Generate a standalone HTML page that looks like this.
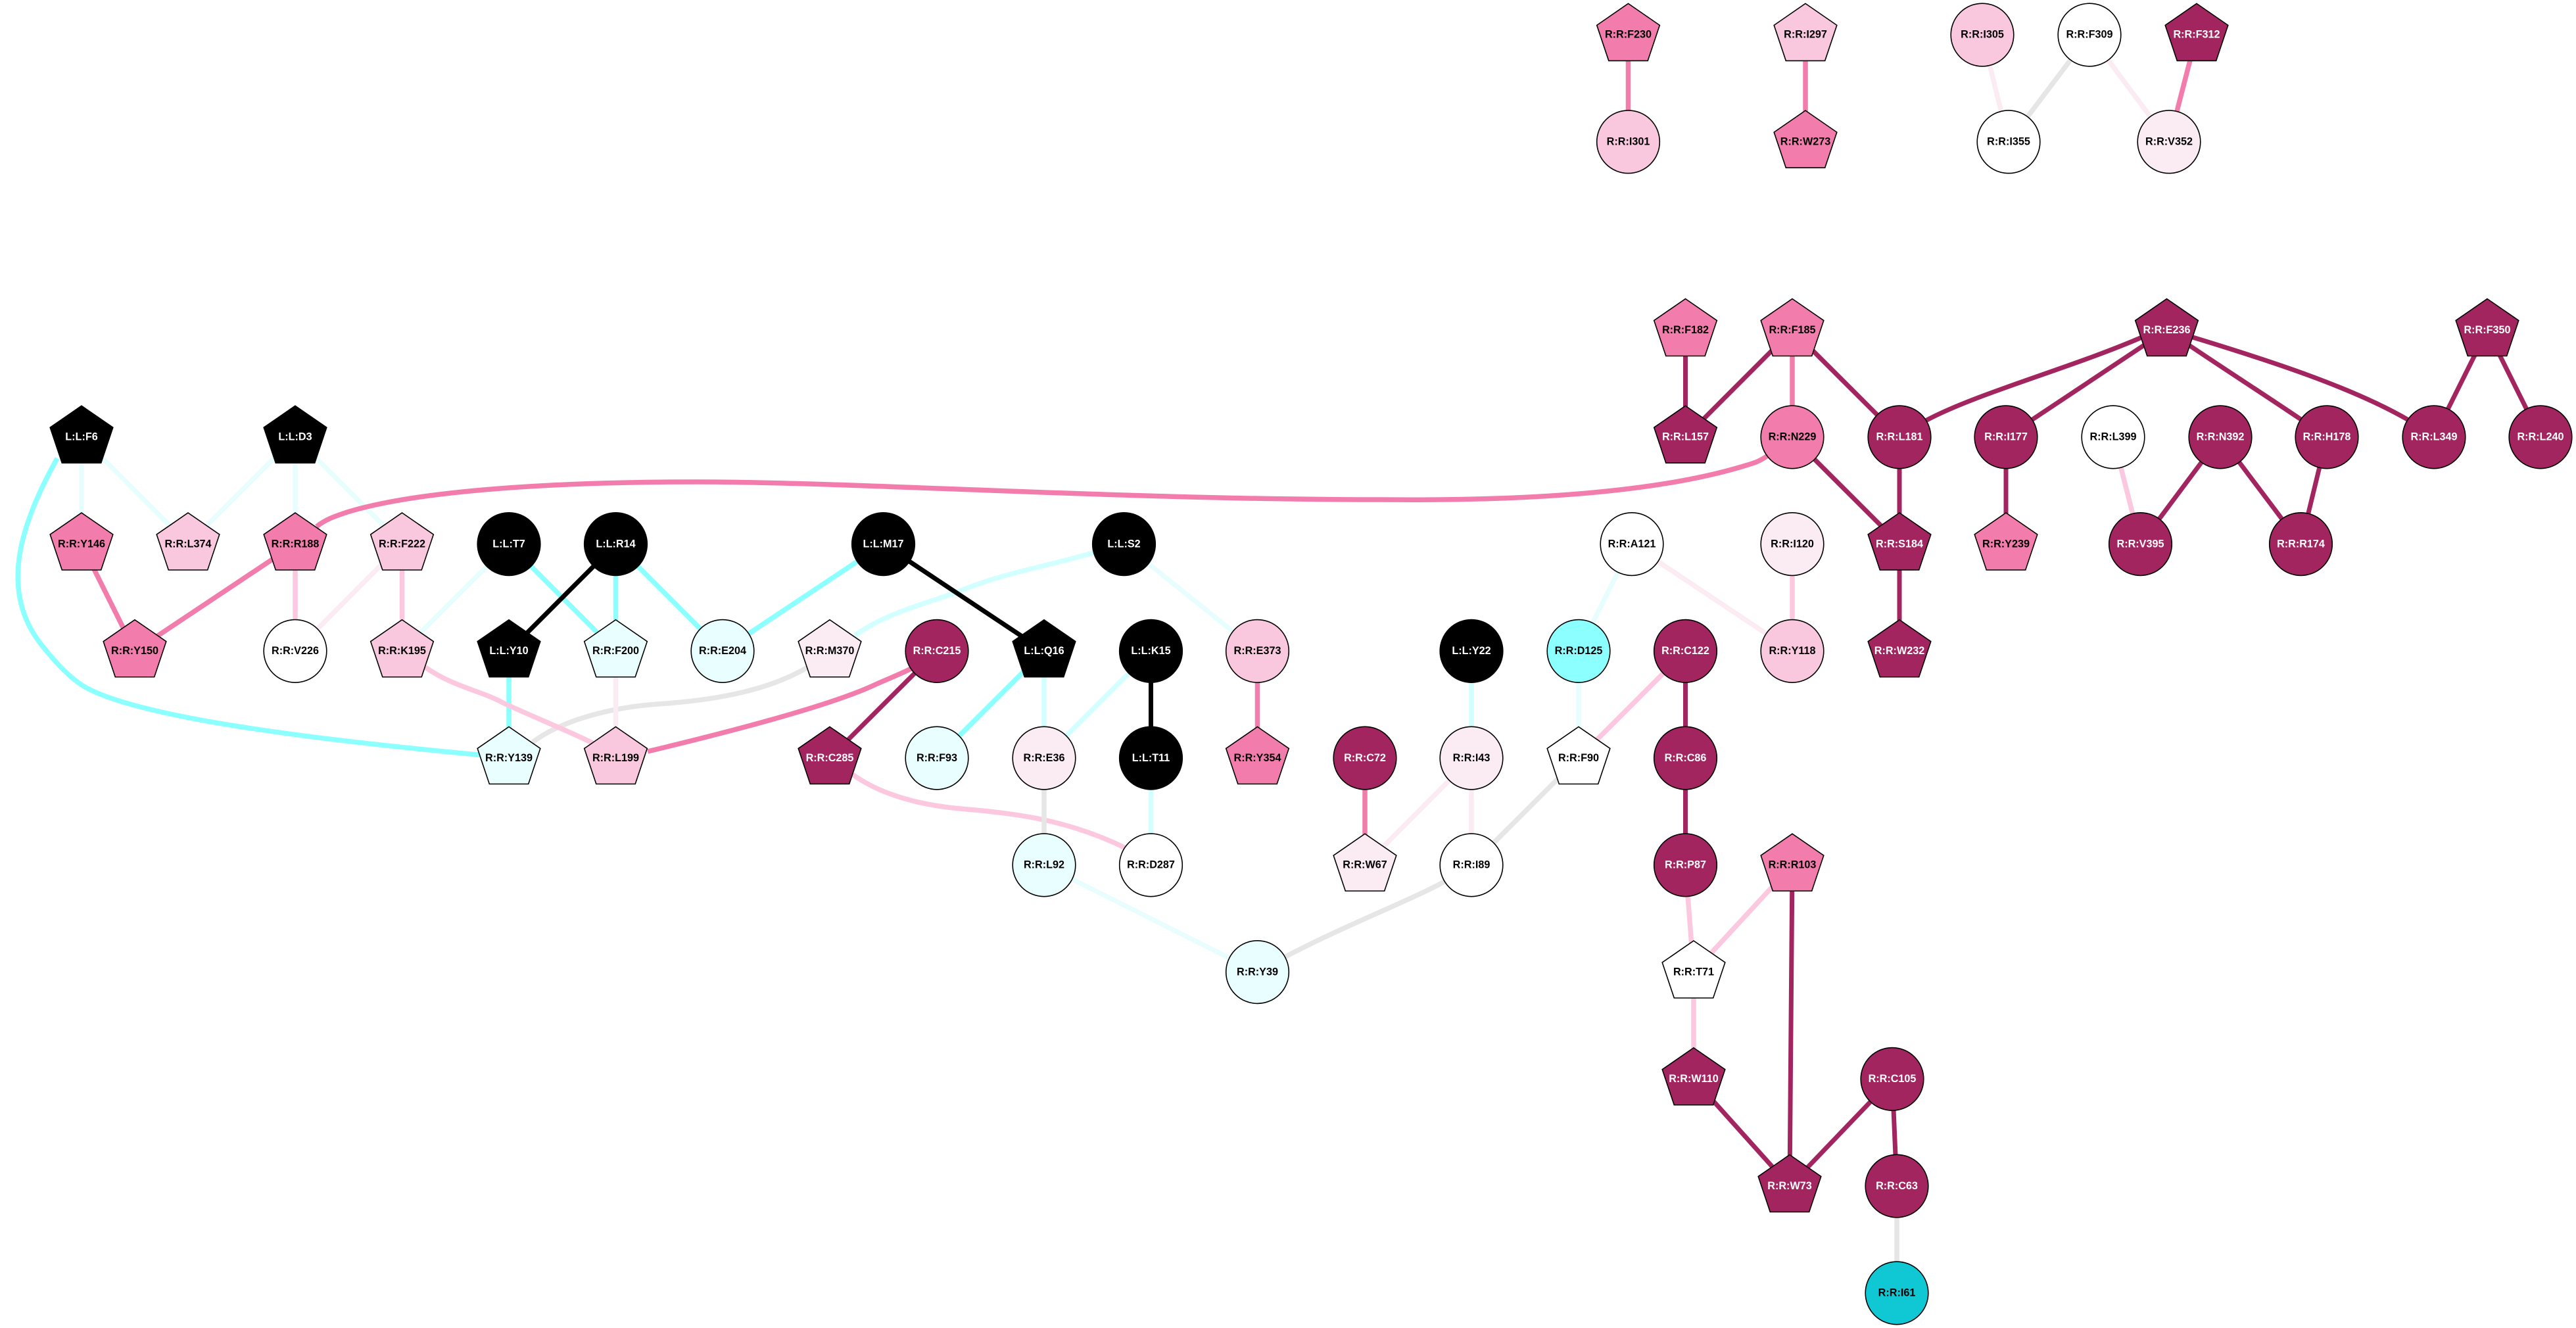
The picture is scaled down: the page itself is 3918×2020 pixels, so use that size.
<!DOCTYPE html>
<html><head><meta charset="utf-8"><style>
html,body{margin:0;padding:0;background:#fff}
svg{display:block}
.e{fill:none;stroke-width:7.5}
.c{stroke:#8cffff}.a{stroke:#e8fefe}.b{stroke:#d2ffff}.k{stroke:#000;stroke-width:7}.p{stroke:#f27dac}.l{stroke:#fbc8df}.v{stroke:#fbebf3}.g{stroke:#e6e6e6}.d{stroke:#a2255f;stroke-width:7}
.n{stroke:#000;stroke-width:1.6}
.W{fill:#fff}.C{fill:#e9fefe}.X{fill:#8cffff}.T{fill:#10c8d4}.V{fill:#fbecf4}.L{fill:#f9c8de}.P{fill:#f27dac}.D{fill:#a2255f}.K{fill:#000}
text{font-family:"Liberation Sans",Arial,sans-serif;font-weight:bold;font-size:16.2px;text-anchor:middle;fill:#000}
.w text{fill:#fff}
</style></head><body>
<svg width="3918" height="2020" viewBox="0 0 3918 2020" xmlns="http://www.w3.org/2000/svg">
<rect width="3918" height="2020" fill="#fff"/>
<g>
<path class="e g" d="M810,1129C855,1095,930,1076,1000,1071C1090,1065,1170,1050,1230,1014"/>
<path class="e b" d="M1300,967C1350,930,1420,915,1460,899C1530,870,1600,860,1665,840"/>
<path class="e l" d="M1297,1178C1320,1195,1370,1222,1460,1230C1540,1237,1620,1245,1712,1290"/>
<path class="e p" d="M2476.5,53V215.75"/>
<path class="e p" d="M2746,53V215.75"/>
<path class="e v" d="M3015,53L3055,215.75"/>
<path class="e g" d="M3178,53L3055,215.75"/>
<path class="e v" d="M3178,53L3299,215.75"/>
<path class="e p" d="M3341,53L3299,215.75"/>
<path class="e d" d="M2563.5,502.1V664.85"/>
<path class="e d" d="M2726,502.1L2563.5,664.85"/>
<path class="e p" d="M2726,502.1V664.85"/>
<path class="e d" d="M2726,502.1L2889,664.85"/>
<path class="e d" d="M2726,664.85L2889,827.6"/>
<path class="e d" d="M2889,664.85V990.35"/>
<path class="e d" d="M3051,664.85V827.6"/>
<path class="e d" d="M3260,512C3150,560,3000,600,2925,642"/>
<path class="e d" d="M3295.5,502.1L3051,664.85"/>
<path class="e d" d="M3295.5,502.1C3380,560,3460,610,3539,664.85"/>
<path class="e d" d="M3335,513C3450,548,3580,590,3665,640"/>
<path class="e d" d="M3783,502.1L3702,664.85"/>
<path class="e d" d="M3783,502.1L3864,664.85"/>
<path class="e l" d="M3214,664.85L3255.5,827.6"/>
<path class="e d" d="M3377,664.85L3255.5,827.6"/>
<path class="e d" d="M3377,664.85L3499.5,827.6"/>
<path class="e d" d="M3539,664.85L3499.5,827.6"/>
<path class="e a" d="M124,664.85V827.6"/>
<path class="e a" d="M124,664.85L286,827.6"/>
<path class="e a" d="M449,664.85L286,827.6"/>
<path class="e a" d="M449,664.85V827.6"/>
<path class="e a" d="M449,664.85L611.5,827.6"/>
<path class="e c" d="M87,697C30,800,-2,900,64,982C85,1008,105,1030,127.5,1044C210,1092,480,1125,727,1148L770,1152"/>
<path class="e p" d="M124,827.6L205,990.35"/>
<path class="e p" d="M449,827.6L205,990.35"/>
<path class="e l" d="M449,827.6V990.35"/>
<path class="e v" d="M611.5,827.6L449,990.35"/>
<path class="e l" d="M611.5,827.6V990.35"/>
<path class="e a" d="M774,827.6L611.5,990.35"/>
<path class="e c" d="M774,827.6L936.5,990.35"/>
<path class="e k" d="M936.5,827.6L774,990.35"/>
<path class="e c" d="M936.5,827.6V990.35"/>
<path class="e c" d="M936.5,827.6L1099,990.35"/>
<path class="e c" d="M1343.5,827.6L1099,990.35"/>
<path class="e k" d="M1343.5,827.6L1588,990.35"/>
<path class="e c" d="M774,990.35V1153.1"/>
<path class="e v" d="M936.5,990.35V1153.1"/>
<path class="e l" d="M647,1015C690,1045,730,1050,765,1069C810,1090,860,1110,899,1129L936,1153"/>
<path class="e p" d="M985,1143C1090,1118,1260,1075,1332,1041C1350,1033,1370,1025,1390,1015"/>
<path class="e d" d="M1425,990.35L1262,1153.1"/>
<path class="e a" d="M1709.5,827.6L1912.5,990.35"/>
<path class="e c" d="M1588,990.35L1425,1153.1"/>
<path class="e b" d="M1588,990.35V1153.1"/>
<path class="e b" d="M1750.5,990.35L1588,1153.1"/>
<path class="e k" d="M1750.5,990.35V1153.1"/>
<path class="e p" d="M1912.5,990.35V1153.1"/>
<path class="e g" d="M1588,1153.1V1315.85"/>
<path class="e b" d="M1750.5,1153.1V1315.85"/>
<path class="e a" d="M1588,1315.85L1912.5,1478.6"/>
<path class="e g" d="M2238,1315.85C2170,1365,2050,1400,1912.5,1478.6"/>
<path class="e p" d="M2076,1153.1V1315.85"/>
<path class="e b" d="M2238,990.35V1153.1"/>
<path class="e v" d="M2238,1153.1L2076,1315.85"/>
<path class="e v" d="M2238,1153.1V1315.85"/>
<path class="e a" d="M2482,827.6L2401,990.35"/>
<path class="e a" d="M2401,990.35V1153.1"/>
<path class="e v" d="M2482,827.6L2726,990.35"/>
<path class="e l" d="M2726,827.6V990.35"/>
<path class="e l" d="M2563.5,990.35L2401,1153.1"/>
<path class="e g" d="M2401,1153.1L2238,1315.85"/>
<path class="e d" d="M2563.5,990.35V1315.85"/>
<path class="e l" d="M2563.5,1315.85L2576,1478.6"/>
<path class="e l" d="M2726,1315.85L2576,1478.6"/>
<path class="e l" d="M2576,1478.6V1641.35"/>
<path class="e d" d="M2726,1315.85L2722,1804.1"/>
<path class="e d" d="M2576,1641.35L2722,1804.1"/>
<path class="e d" d="M2878,1641.35L2722,1804.1"/>
<path class="e d" d="M2878,1641.35L2885,1804.1"/>
<path class="e g" d="M2885,1804.1V1966.85"/>
<path class="e p" d="M481.5,801C495,790,510,785,529,778.7C640,745,850,733,1060,733C1300,733,1700,760,2102,760C2300,762,2510,752,2652,709C2665,705,2675,703,2690,692"/>
</g>
<g transform="translate(2476.5,53)"><polygon class="n P" points="0,-47.6 47.8,-14.6 29.7,39.4 -29.7,39.4 -47.8,-14.6"/><text y="4.7">R:R:F230</text></g>
<g transform="translate(2476.5,215.75)"><circle class="n L" r="47.8"/><text y="4.7">R:R:I301</text></g>
<g transform="translate(2746,53)"><polygon class="n L" points="0,-47.6 47.8,-14.6 29.7,39.4 -29.7,39.4 -47.8,-14.6"/><text y="4.7">R:R:I297</text></g>
<g transform="translate(2746,215.75)"><polygon class="n P" points="0,-47.6 47.8,-14.6 29.7,39.4 -29.7,39.4 -47.8,-14.6"/><text y="4.7">R:R:W273</text></g>
<g transform="translate(3015,53)"><circle class="n L" r="47.8"/><text y="4.7">R:R:I305</text></g>
<g transform="translate(3178,53)"><circle class="n W" r="47.8"/><text y="4.7">R:R:F309</text></g>
<g class="w" transform="translate(3341,53)"><polygon class="n D" points="0,-47.6 47.8,-14.6 29.7,39.4 -29.7,39.4 -47.8,-14.6"/><text y="4.7">R:R:F312</text></g>
<g transform="translate(3055,215.75)"><circle class="n W" r="47.8"/><text y="4.7">R:R:I355</text></g>
<g transform="translate(3299,215.75)"><circle class="n V" r="47.8"/><text y="4.7">R:R:V352</text></g>

<g transform="translate(2563.5,502.1)"><polygon class="n P" points="0,-47.6 47.8,-14.6 29.7,39.4 -29.7,39.4 -47.8,-14.6"/><text y="4.7">R:R:F182</text></g>
<g transform="translate(2726,502.1)"><polygon class="n P" points="0,-47.6 47.8,-14.6 29.7,39.4 -29.7,39.4 -47.8,-14.6"/><text y="4.7">R:R:F185</text></g>
<g class="w" transform="translate(3295.5,502.1)"><polygon class="n D" points="0,-47.6 47.8,-14.6 29.7,39.4 -29.7,39.4 -47.8,-14.6"/><text y="4.7">R:R:E236</text></g>
<g class="w" transform="translate(3783,502.1)"><polygon class="n D" points="0,-47.6 47.8,-14.6 29.7,39.4 -29.7,39.4 -47.8,-14.6"/><text y="4.7">R:R:F350</text></g>

<g class="w" transform="translate(124,664.85)"><polygon class="n K" points="0,-47.6 47.8,-14.6 29.7,39.4 -29.7,39.4 -47.8,-14.6"/><text y="4.7">L:L:F6</text></g>
<g class="w" transform="translate(449,664.85)"><polygon class="n K" points="0,-47.6 47.8,-14.6 29.7,39.4 -29.7,39.4 -47.8,-14.6"/><text y="4.7">L:L:D3</text></g>
<g class="w" transform="translate(2563.5,664.85)"><polygon class="n D" points="0,-47.6 47.8,-14.6 29.7,39.4 -29.7,39.4 -47.8,-14.6"/><text y="4.7">R:R:L157</text></g>
<g transform="translate(2726,664.85)"><circle class="n P" r="47.8"/><text y="4.7">R:R:N229</text></g>
<g class="w" transform="translate(2889,664.85)"><circle class="n D" r="47.8"/><text y="4.7">R:R:L181</text></g>
<g class="w" transform="translate(3051,664.85)"><circle class="n D" r="47.8"/><text y="4.7">R:R:I177</text></g>
<g transform="translate(3214,664.85)"><circle class="n W" r="47.8"/><text y="4.7">R:R:L399</text></g>
<g class="w" transform="translate(3377,664.85)"><circle class="n D" r="47.8"/><text y="4.7">R:R:N392</text></g>
<g class="w" transform="translate(3539,664.85)"><circle class="n D" r="47.8"/><text y="4.7">R:R:H178</text></g>
<g class="w" transform="translate(3702,664.85)"><circle class="n D" r="47.8"/><text y="4.7">R:R:L349</text></g>
<g class="w" transform="translate(3864,664.85)"><circle class="n D" r="47.8"/><text y="4.7">R:R:L240</text></g>

<g transform="translate(124,827.6)"><polygon class="n P" points="0,-47.6 47.8,-14.6 29.7,39.4 -29.7,39.4 -47.8,-14.6"/><text y="4.7">R:R:Y146</text></g>
<g transform="translate(286,827.6)"><polygon class="n L" points="0,-47.6 47.8,-14.6 29.7,39.4 -29.7,39.4 -47.8,-14.6"/><text y="4.7">R:R:L374</text></g>
<g transform="translate(449,827.6)"><polygon class="n P" points="0,-47.6 47.8,-14.6 29.7,39.4 -29.7,39.4 -47.8,-14.6"/><text y="4.7">R:R:R188</text></g>
<g transform="translate(611.5,827.6)"><polygon class="n L" points="0,-47.6 47.8,-14.6 29.7,39.4 -29.7,39.4 -47.8,-14.6"/><text y="4.7">R:R:F222</text></g>
<g class="w" transform="translate(774,827.6)"><circle class="n K" r="47.8"/><text y="4.7">L:L:T7</text></g>
<g class="w" transform="translate(936.5,827.6)"><circle class="n K" r="47.8"/><text y="4.7">L:L:R14</text></g>
<g class="w" transform="translate(1343.5,827.6)"><circle class="n K" r="47.8"/><text y="4.7">L:L:M17</text></g>
<g class="w" transform="translate(1709.5,827.6)"><circle class="n K" r="47.8"/><text y="4.7">L:L:S2</text></g>
<g transform="translate(2482,827.6)"><circle class="n W" r="47.8"/><text y="4.7">R:R:A121</text></g>
<g transform="translate(2726,827.6)"><circle class="n V" r="47.8"/><text y="4.7">R:R:I120</text></g>
<g class="w" transform="translate(2889,827.6)"><polygon class="n D" points="0,-47.6 47.8,-14.6 29.7,39.4 -29.7,39.4 -47.8,-14.6"/><text y="4.7">R:R:S184</text></g>
<g transform="translate(3051,827.6)"><polygon class="n P" points="0,-47.6 47.8,-14.6 29.7,39.4 -29.7,39.4 -47.8,-14.6"/><text y="4.7">R:R:Y239</text></g>
<g class="w" transform="translate(3255.5,827.6)"><circle class="n D" r="47.8"/><text y="4.7">R:R:V395</text></g>
<g class="w" transform="translate(3499.5,827.6)"><circle class="n D" r="47.8"/><text y="4.7">R:R:R174</text></g>

<g transform="translate(205,990.35)"><polygon class="n P" points="0,-47.6 47.8,-14.6 29.7,39.4 -29.7,39.4 -47.8,-14.6"/><text y="4.7">R:R:Y150</text></g>
<g transform="translate(449,990.35)"><circle class="n W" r="47.8"/><text y="4.7">R:R:V226</text></g>
<g transform="translate(611.5,990.35)"><polygon class="n L" points="0,-47.6 47.8,-14.6 29.7,39.4 -29.7,39.4 -47.8,-14.6"/><text y="4.7">R:R:K195</text></g>
<g class="w" transform="translate(774,990.35)"><polygon class="n K" points="0,-47.6 47.8,-14.6 29.7,39.4 -29.7,39.4 -47.8,-14.6"/><text y="4.7">L:L:Y10</text></g>
<g transform="translate(936.5,990.35)"><polygon class="n C" points="0,-47.6 47.8,-14.6 29.7,39.4 -29.7,39.4 -47.8,-14.6"/><text y="4.7">R:R:F200</text></g>
<g transform="translate(1099,990.35)"><circle class="n C" r="47.8"/><text y="4.7">R:R:E204</text></g>
<g transform="translate(1262,990.35)"><polygon class="n V" points="0,-47.6 47.8,-14.6 29.7,39.4 -29.7,39.4 -47.8,-14.6"/><text y="4.7">R:R:M370</text></g>
<g class="w" transform="translate(1425,990.35)"><circle class="n D" r="47.8"/><text y="4.7">R:R:C215</text></g>
<g class="w" transform="translate(1588,990.35)"><polygon class="n K" points="0,-47.6 47.8,-14.6 29.7,39.4 -29.7,39.4 -47.8,-14.6"/><text y="4.7">L:L:Q16</text></g>
<g class="w" transform="translate(1750.5,990.35)"><circle class="n K" r="47.8"/><text y="4.7">L:L:K15</text></g>
<g transform="translate(1912.5,990.35)"><circle class="n L" r="47.8"/><text y="4.7">R:R:E373</text></g>
<g class="w" transform="translate(2238,990.35)"><circle class="n K" r="47.8"/><text y="4.7">L:L:Y22</text></g>
<g transform="translate(2401,990.35)"><circle class="n X" r="47.8"/><text y="4.7">R:R:D125</text></g>
<g class="w" transform="translate(2563.5,990.35)"><circle class="n D" r="47.8"/><text y="4.7">R:R:C122</text></g>
<g transform="translate(2726,990.35)"><circle class="n L" r="47.8"/><text y="4.7">R:R:Y118</text></g>
<g class="w" transform="translate(2889,990.35)"><polygon class="n D" points="0,-47.6 47.8,-14.6 29.7,39.4 -29.7,39.4 -47.8,-14.6"/><text y="4.7">R:R:W232</text></g>

<g transform="translate(774,1153.1)"><polygon class="n C" points="0,-47.6 47.8,-14.6 29.7,39.4 -29.7,39.4 -47.8,-14.6"/><text y="4.7">R:R:Y139</text></g>
<g transform="translate(936.5,1153.1)"><polygon class="n L" points="0,-47.6 47.8,-14.6 29.7,39.4 -29.7,39.4 -47.8,-14.6"/><text y="4.7">R:R:L199</text></g>
<g class="w" transform="translate(1262,1153.1)"><polygon class="n D" points="0,-47.6 47.8,-14.6 29.7,39.4 -29.7,39.4 -47.8,-14.6"/><text y="4.7">R:R:C285</text></g>
<g transform="translate(1425,1153.1)"><circle class="n C" r="47.8"/><text y="4.7">R:R:F93</text></g>
<g transform="translate(1588,1153.1)"><circle class="n V" r="47.8"/><text y="4.7">R:R:E36</text></g>
<g class="w" transform="translate(1750.5,1153.1)"><circle class="n K" r="47.8"/><text y="4.7">L:L:T11</text></g>
<g transform="translate(1912.5,1153.1)"><polygon class="n P" points="0,-47.6 47.8,-14.6 29.7,39.4 -29.7,39.4 -47.8,-14.6"/><text y="4.7">R:R:Y354</text></g>
<g class="w" transform="translate(2076,1153.1)"><circle class="n D" r="47.8"/><text y="4.7">R:R:C72</text></g>
<g transform="translate(2238,1153.1)"><circle class="n V" r="47.8"/><text y="4.7">R:R:I43</text></g>
<g transform="translate(2401,1153.1)"><polygon class="n W" points="0,-47.6 47.8,-14.6 29.7,39.4 -29.7,39.4 -47.8,-14.6"/><text y="4.7">R:R:F90</text></g>
<g class="w" transform="translate(2563.5,1153.1)"><circle class="n D" r="47.8"/><text y="4.7">R:R:C86</text></g>

<g transform="translate(1588,1315.85)"><circle class="n C" r="47.8"/><text y="4.7">R:R:L92</text></g>
<g transform="translate(1750.5,1315.85)"><circle class="n W" r="47.8"/><text y="4.7">R:R:D287</text></g>
<g transform="translate(2076,1315.85)"><polygon class="n V" points="0,-47.6 47.8,-14.6 29.7,39.4 -29.7,39.4 -47.8,-14.6"/><text y="4.7">R:R:W67</text></g>
<g transform="translate(2238,1315.85)"><circle class="n W" r="47.8"/><text y="4.7">R:R:I89</text></g>
<g class="w" transform="translate(2563.5,1315.85)"><circle class="n D" r="47.8"/><text y="4.7">R:R:P87</text></g>
<g transform="translate(2726,1315.85)"><polygon class="n P" points="0,-47.6 47.8,-14.6 29.7,39.4 -29.7,39.4 -47.8,-14.6"/><text y="4.7">R:R:R103</text></g>

<g transform="translate(1912.5,1478.6)"><circle class="n C" r="47.8"/><text y="4.7">R:R:Y39</text></g>
<g transform="translate(2576,1478.6)"><polygon class="n W" points="0,-47.6 47.8,-14.6 29.7,39.4 -29.7,39.4 -47.8,-14.6"/><text y="4.7">R:R:T71</text></g>

<g class="w" transform="translate(2576,1641.35)"><polygon class="n D" points="0,-47.6 47.8,-14.6 29.7,39.4 -29.7,39.4 -47.8,-14.6"/><text y="4.7">R:R:W110</text></g>
<g class="w" transform="translate(2878,1641.35)"><circle class="n D" r="47.8"/><text y="4.7">R:R:C105</text></g>
<g class="w" transform="translate(2722,1804.1)"><polygon class="n D" points="0,-47.6 47.8,-14.6 29.7,39.4 -29.7,39.4 -47.8,-14.6"/><text y="4.7">R:R:W73</text></g>
<g class="w" transform="translate(2885,1804.1)"><circle class="n D" r="47.8"/><text y="4.7">R:R:C63</text></g>
<g transform="translate(2885,1966.85)"><circle class="n T" r="47.8"/><text y="4.7">R:R:I61</text></g>
</svg>
</body></html>
